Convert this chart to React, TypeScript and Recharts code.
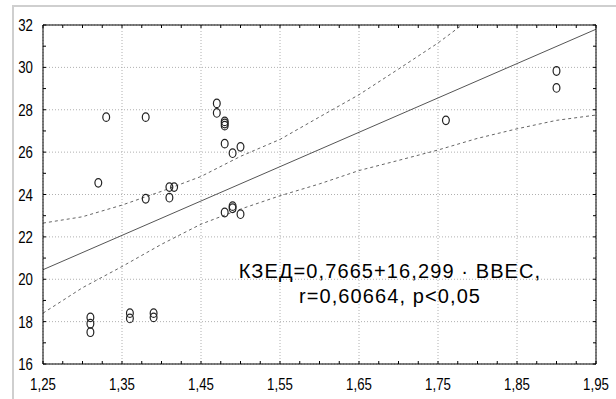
import React from 'react';
import { ComposedChart, Scatter, Line, XAxis, YAxis, CartesianGrid } from 'recharts';

// observed points (ВВЕС, КЗЕД)
const pointX = [
  1.31, 1.31, 1.31, 1.32, 1.33, 1.36, 1.36, 1.38, 1.38, 1.39, 1.39, 1.41, 1.416, 1.41,
  1.47, 1.47, 1.48, 1.48, 1.48, 1.48, 1.48, 1.49, 1.49, 1.49, 1.5, 1.5, 1.76, 1.9, 1.9,
];
const pointY = [
  18.2, 17.9, 17.5, 24.55, 27.65, 18.4, 18.15, 27.65, 23.8, 18.4, 18.2, 24.35, 24.35, 23.85,
  28.3, 27.85, 27.45, 27.35, 27.25, 26.4, 23.15, 25.95, 23.45, 23.35, 26.25, 23.07, 27.5, 29.83, 29.03,
];

// fitted line and 95% band
const fitX = [1.25, 1.95];
const fitY = [20.45, 31.8];
const bandX = [1.25, 1.3, 1.35, 1.4, 1.45, 1.5, 1.55, 1.6, 1.65, 1.7, 1.75, 1.8, 1.85, 1.9, 1.95];
const upperY = [22.65, 22.95, 23.5, 24.15, 24.85, 25.8, 26.6, 27.66, 28.71, 29.92, 31.15, 32.55, 34.0, 35.5, 37.0];
const lowerY = [18.4, 19.6, 20.6, 21.65, 22.6, 23.31, 23.94, 24.5, 25.13, 25.61, 26.1, 26.65, 27.1, 27.5, 27.75];

const xMajor = [1.25, 1.35, 1.45, 1.55, 1.65, 1.75, 1.85, 1.95];
const xMinor = [
  1.25, 1.275, 1.3, 1.325, 1.35, 1.375, 1.4, 1.425, 1.45, 1.475, 1.5, 1.525, 1.55, 1.575, 1.6,
  1.625, 1.65, 1.675, 1.7, 1.725, 1.75, 1.775, 1.8, 1.825, 1.85, 1.875, 1.9, 1.925, 1.95,
];
const yMajor = [16, 18, 20, 22, 24, 26, 28, 30, 32];
const yMinor = [16, 17, 18, 19, 20, 21, 22, 23, 24, 25, 26, 27, 28, 29, 30, 31, 32];

const pairs = (xs: number[], ys: number[]) => xs.map((x, i) => ({ x, y: ys[i] }));
const points = pairs(pointX, pointY);
const fit = pairs(fitX, fitY);
const upper = pairs(bandX, upperY);
const lower = pairs(bandX, lowerY);

const comma = (v: number) => v.toFixed(2).replace('.', ',');

// narrow tick labels (Arial Narrow look)
const NarrowTick = (props: any) => {
  const { x, y, payload, textAnchor, isX } = props;
  const label = isX ? comma(payload.value) : String(payload.value);
  return (
    <g transform={`translate(${x},${y})`}>
      <text
        transform="scale(0.78,1)"
        textAnchor={textAnchor}
        dy={isX ? 12 : 6}
        fontFamily="'Liberation Sans', Arial, sans-serif"
        fontSize={17}
        fill="#000"
      >
        {label}
      </text>
    </g>
  );
};

const Ring = (props: any) => (
  <ellipse cx={props.cx} cy={props.cy} rx={3.4} ry={4.3} fill="none" stroke="#222" strokeWidth={1.2} />
);
const Nothing = () => <g />;

export default function App() {
  return (
    <div style={{ position: 'absolute', left: 0, top: 0, width: 616, height: 399, background: '#fff' }}>
      <div
        style={{
          position: 'absolute', left: 12, top: 5, right: 0, bottom: 0,
          borderTop: '2px solid #cfcfcf', borderLeft: '2px solid #cfcfcf',
        }}
      />
      <ComposedChart width={616} height={399} margin={{ top: 25, right: 20, bottom: 0, left: 0 }}>
        <CartesianGrid xAxisId="x" yAxisId="y" stroke="#b0b0b0" strokeDasharray="1 2" />
        <XAxis
          xAxisId="x" dataKey="x" type="number" domain={[1.25, 1.95]} allowDataOverflow
          ticks={xMajor} interval={0} tickLine={false} axisLine={false}
          tickSize={6} tickMargin={8} height={35} tick={<NarrowTick isX />}
        />
        <XAxis
          xAxisId="xb" dataKey="x" type="number" orientation="bottom" mirror domain={[1.25, 1.95]} allowDataOverflow
          ticks={xMinor} interval={0} tick={<Nothing />} tickSize={3} stroke="#000" height={10}
        />
        <XAxis
          xAxisId="xt" dataKey="x" type="number" orientation="top" mirror domain={[1.25, 1.95]} allowDataOverflow
          ticks={xMinor} interval={0} tick={<Nothing />} tickSize={3} stroke="#000" height={10}
        />
        <YAxis
          yAxisId="y" dataKey="y" type="number" domain={[16, 32]} allowDataOverflow
          ticks={yMajor} interval={0} tickLine={false} axisLine={false}
          tickSize={6} tickMargin={4} width={43} tick={<NarrowTick />}
        />
        <YAxis
          yAxisId="yl" dataKey="y" type="number" orientation="left" mirror domain={[16, 32]} allowDataOverflow
          ticks={yMinor} interval={0} tick={<Nothing />} tickSize={3} stroke="#000" width={10}
        />
        <YAxis
          yAxisId="yr" dataKey="y" type="number" orientation="right" mirror domain={[16, 32]} allowDataOverflow
          ticks={yMinor} interval={0} tick={<Nothing />} tickSize={3} stroke="#000" width={10}
        />
        <Line
          xAxisId="x" yAxisId="y" data={upper} dataKey="y" type="linear" stroke="#666"
          strokeWidth={1} strokeDasharray="3 3" dot={false} isAnimationActive={false}
        />
        <Line
          xAxisId="x" yAxisId="y" data={lower} dataKey="y" type="linear" stroke="#666"
          strokeWidth={1} strokeDasharray="3 3" dot={false} isAnimationActive={false}
        />
        <Line
          xAxisId="x" yAxisId="y" data={fit} dataKey="y" type="linear" stroke="#555"
          strokeWidth={1} dot={false} isAnimationActive={false}
        />
        <Scatter xAxisId="x" yAxisId="y" data={points} dataKey="y" shape={Ring} isAnimationActive={false} />
        {/* invisible series so the frame axes get a scale */}
        <Scatter xAxisId="xb" yAxisId="yl" data={points} dataKey="y" shape={Nothing} isAnimationActive={false} />
        <Scatter xAxisId="xt" yAxisId="yr" data={points} dataKey="y" shape={Nothing} isAnimationActive={false} />
      </ComposedChart>
      <svg width={616} height={399} style={{ position: 'absolute', left: 0, top: 0, pointerEvents: 'none' }}>
        <g fontFamily="'Liberation Sans', Arial, sans-serif" fontSize={20} fill="#000" textAnchor="middle" letterSpacing={1.1}>
          <text x={390} y={277.5}>КЗЕД=0,7665+16,299 · ВВЕС,</text>
          <text x={390} y={303}>r=0,60664, p&lt;0,05</text>
        </g>
      </svg>
    </div>
  );
}
